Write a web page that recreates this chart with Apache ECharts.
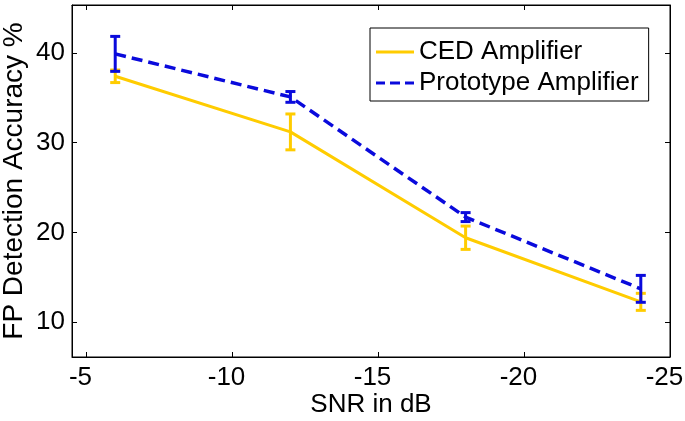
<!DOCTYPE html>
<html>
<head>
<meta charset="utf-8">
<script src="https://cdn.jsdelivr.net/npm/echarts@6/dist/echarts.min.js"></script>
<style>
  html, body { margin: 0; padding: 0; background: #fff; }
  #chart { width: 685px; height: 421px; }
</style>
</head>
<body>
<div id="chart"></div>
<script>
// SNR values (dB)
const snr = [-6, -12, -18, -24];
const xTicks = [-5, -10, -15, -20, -25];
const yTicks = [10, 20, 30, 40];

// CED Amplifier
const cedMean = [37.4, 31.2, 19.4, 12.25];
const cedErr = [0.7, 2.0, 1.3, 0.95];
// Prototype Amplifier
const protoMean = [39.9, 35.1, 21.7, 13.7];
const protoErr = [1.95, 0.6, 0.5, 1.5];

const yellow = "#FFCC00";
const blue = "#0A0ADC";
const font = "Liberation Sans";

function errorBarItem(color) {
	return function (params, api) {
		const x = api.value(0);
		const lo = api.coord([x, api.value(1)]);
		const hi = api.coord([x, api.value(2)]);
		const cap = 5;
		const style = { stroke: color, lineWidth: 3 };
		return {
			type: "group",
			children: [
				{ type: "line", shape: { x1: lo[0], y1: lo[1], x2: hi[0], y2: hi[1] }, style },
				{ type: "line", shape: { x1: lo[0] - cap, y1: lo[1], x2: lo[0] + cap, y2: lo[1] }, style },
				{ type: "line", shape: { x1: hi[0] - cap, y1: hi[1], x2: hi[0] + cap, y2: hi[1] }, style },
			],
		};
	};
}

function errData(mean, err) {
	return snr.map((x, i) => [x, mean[i] - err[i], mean[i] + err[i]]);
}

const axisCommon = {
	axisLine: { show: true, lineStyle: { color: "#000", width: 1 } },
	axisTick: { show: true, inside: true, length: 5, lineStyle: { color: "#000" } },
	splitLine: { show: false },
};

const option = {
	animation: false,
	grid: {
		left: 72,
		right: 15,
		top: 5,
		bottom: 64,
		outerBoundsMode: "none",
		containLabel: false,
		show: true,
		borderColor: "#000",
		borderWidth: 1,
	},
	legend: {
		orient: "vertical",
		left: 370,
		top: 28,
		width: 285,
		padding: [11, 10, 5, 6],
		borderColor: "#000",
		borderWidth: 1,
		backgroundColor: "#fff",
		itemWidth: 38,
		itemHeight: 3,
		itemGap: 5,
		textStyle: { fontFamily: font, fontSize: 26, color: "#000", lineHeight: 26 },
		data: [
			{ name: "CED Amplifier", icon: "rect" },
			{ name: "Prototype Amplifier", icon: "path://M0,0h9v3h-9zM14,0h10v3h-10zM29,0h9v3h-9z" },
		],
	},
	xAxis: [
		{
			type: "value",
			inverse: true,
			min: -25,
			max: -4.52,
			...axisCommon,
			axisTick: { ...axisCommon.axisTick, customValues: xTicks },
			axisLabel: {
				customValues: xTicks,
				margin: 8,
				padding: [0, 11, 0, 0],
				fontFamily: font,
				fontSize: 26,
				color: "#000",
			},
			name: "SNR in dB",
			nameLocation: "middle",
			nameGap: 35,
			nameMoveOverlap: false,
			nameTextStyle: { fontFamily: font, fontSize: 26, color: "#000" },
		},
		{
			type: "value",
			position: "top",
			inverse: true,
			min: -25,
			max: -4.52,
			...axisCommon,
			axisTick: { ...axisCommon.axisTick, customValues: xTicks },
			axisLabel: { show: false },
		},
	],
	yAxis: [
		{
			type: "value",
			min: 6.1,
			max: 45.35,
			...axisCommon,
			axisTick: { ...axisCommon.axisTick, customValues: yTicks },
			axisLabel: {
				customValues: yTicks,
				margin: 7,
				fontFamily: font,
				fontSize: 26,
				color: "#000",
			},
			name: "FP Detection Accuracy %",
			nameLocation: "middle",
			nameGap: 44,
			nameMoveOverlap: false,
			nameTextStyle: { fontFamily: font, fontSize: 28, color: "#000" },
		},
		{
			type: "value",
			position: "right",
			min: 6.1,
			max: 45.35,
			...axisCommon,
			axisTick: { ...axisCommon.axisTick, customValues: yTicks },
			axisLabel: { show: false },
		},
	],
	series: [
		{
			name: "CED Amplifier",
			type: "line",
			symbol: "none",
			lineStyle: { color: yellow, width: 3 },
			itemStyle: { color: yellow },
			data: snr.map((x, i) => [x, cedMean[i]]),
			z: 2,
		},
		{
			type: "custom",
			renderItem: errorBarItem(yellow),
			data: errData(cedMean, cedErr),
			z: 3,
		},
		{
			name: "Prototype Amplifier",
			type: "line",
			symbol: "none",
			lineStyle: { color: blue, width: 3.5, type: [11, 6] },
			itemStyle: { color: blue },
			data: snr.map((x, i) => [x, protoMean[i]]),
			z: 4,
		},
		{
			type: "custom",
			renderItem: errorBarItem(blue),
			data: errData(protoMean, protoErr),
			z: 5,
		},
	],
};

const chart = echarts.init(document.getElementById("chart"));
chart.setOption(option);
</script>
</body>
</html>
